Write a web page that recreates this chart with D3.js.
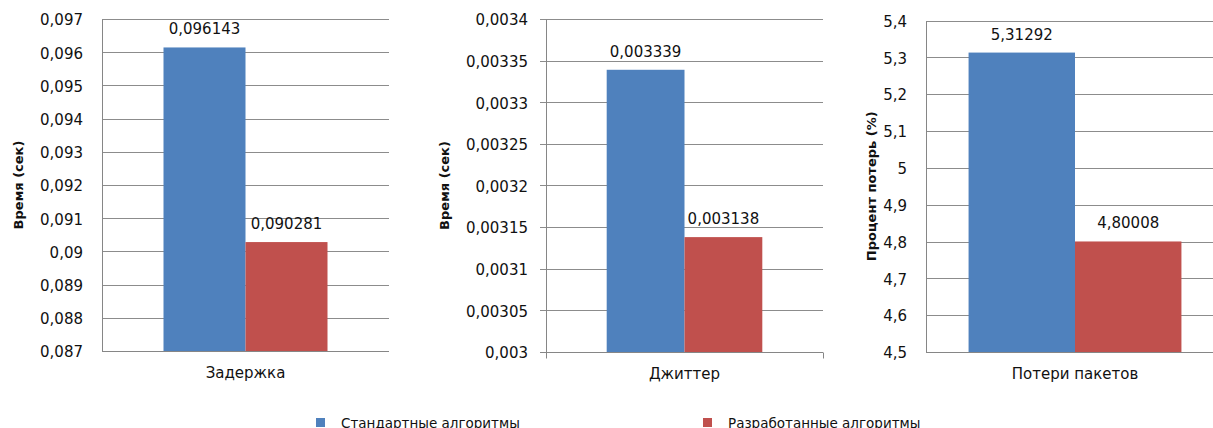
<!DOCTYPE html>
<html>
<head>
<meta charset="utf-8">
<script src="https://cdn.jsdelivr.net/npm/d3@7"></script>
<style>
  html, body { margin: 0; padding: 0; background: #fff; }
  svg { display: block; }
  text { font-family: "DejaVu Sans", Verdana, sans-serif; fill: #111; }
</style>
</head>
<body>
<svg id="chart" width="1213" height="428"></svg>
<script>
// Network quality metrics: standard vs. developed algorithms
const categories = ["Задержка", "Джиттер", "Потери пакетов"];
const seriesNames = ["Стандартные алгоритмы", "Разработанные алгоритмы"];
const standardValues = [0.096143, 0.003339, 5.31292];
const developedValues = [0.090281, 0.003138, 4.80008];
const axisTitles = ["Время (сек)", "Время (сек)", "Процент потерь (%)"];
const delayTicks = [0.087, 0.088, 0.089, 0.09, 0.091, 0.092, 0.093, 0.094, 0.095, 0.096, 0.097];
const jitterTicks = [0.003, 0.00305, 0.0031, 0.00315, 0.0032, 0.00325, 0.0033, 0.00335, 0.0034];
const lossTicks = [4.5, 4.6, 4.7, 4.8, 4.9, 5, 5.1, 5.2, 5.3, 5.4];
const tickSets = [delayTicks, jitterTicks, lossTicks];

const colors = ["#4F81BD", "#C0504D"];
const fmt = v => String(v).replace(".", ",");

// Panel frames (pixel layout of each small chart)
const layout = [
  { left: 102, right: 389, top: 19, bottom: 351, pad: 0.375, labelRight: 83, titleX: 18, outerTicks: false },
  { left: 546, right: 823, top: 19, bottom: 352, pad: 0.39, labelRight: 528, titleX: 444, outerTicks: true },
  { left: 926, right: 1224, top: 20.5, bottom: 352, pad: 0.2, labelRight: 907, titleX: 871, outerTicks: false }
];

const svg = d3.select("#chart");
const crisp = v => Math.round(v) + 0.5;

categories.forEach((cat, i) => {
  const L = layout[i];
  const ticks = tickSets[i];
  const g = svg.append("g");

  const y = d3.scaleLinear()
    .domain([ticks[0], ticks[ticks.length - 1]])
    .range([L.bottom, L.top]);

  const x = d3.scaleBand()
    .domain([cat])
    .range([L.left, L.right])
    .paddingInner(0)
    .paddingOuter(L.pad);

  const xs = d3.scaleBand()
    .domain(seriesNames)
    .range([0, x.bandwidth()]);

  // horizontal gridlines
  g.append("g").selectAll("line")
    .data(ticks)
    .join("line")
    .attr("x1", L.left - (L.outerTicks ? 6 : 0))
    .attr("x2", L.right)
    .attr("y1", d => crisp(y(d)))
    .attr("y2", d => crisp(y(d)))
    .attr("stroke", "#8c8c8c")
    .attr("stroke-width", 1);

  // y tick labels
  g.append("g").selectAll("text")
    .data(ticks)
    .join("text")
    .attr("x", L.labelRight)
    .attr("y", d => y(d))
    .attr("dy", "0.42em")
    .attr("text-anchor", "end")
    .attr("font-size", 15)
    .text(d => fmt(d));

  // bars
  const vals = [standardValues[i], developedValues[i]];
  const barG = g.append("g");
  barG.selectAll("rect")
    .data(vals)
    .join("rect")
    .attr("x", (d, k) => x(cat) + xs(seriesNames[k]))
    .attr("width", xs.bandwidth())
    .attr("y", d => y(d))
    .attr("height", d => L.bottom - y(d))
    .attr("fill", (d, k) => colors[k]);

  // value labels
  barG.selectAll("text")
    .data(vals)
    .join("text")
    .attr("x", (d, k) => x(cat) + xs(seriesNames[k]) + xs.bandwidth() / 2)
    .attr("y", d => y(d) - 13)
    .attr("text-anchor", "middle")
    .attr("font-size", 15)
    .text(d => fmt(d));

  // axis lines
  const bx = crisp(L.left), by = crisp(L.bottom);
  g.append("line")
    .attr("x1", bx).attr("x2", bx)
    .attr("y1", crisp(L.top)).attr("y2", by + (L.outerTicks ? 6 : 0))
    .attr("stroke", "#868686");
  g.append("line")
    .attr("x1", bx - (L.outerTicks ? 6 : 0)).attr("x2", L.right)
    .attr("y1", by).attr("y2", by)
    .attr("stroke", "#868686");
  if (L.outerTicks) {
    g.append("line")
      .attr("x1", crisp(L.right)).attr("x2", crisp(L.right))
      .attr("y1", by).attr("y2", by + 6)
      .attr("stroke", "#868686");
  }

  // category label
  g.append("text")
    .attr("x", x(cat) + x.bandwidth() / 2)
    .attr("y", L.bottom + 27)
    .attr("text-anchor", "middle")
    .attr("font-size", 15)
    .text(cat);

  // y-axis title
  const cy = (L.top + L.bottom) / 2;
  g.append("text")
    .attr("transform", `translate(${L.titleX},${cy}) rotate(-90)`)
    .attr("dy", "0.35em")
    .attr("text-anchor", "middle")
    .attr("font-size", 13)
    .attr("font-weight", "bold")
    .text(axisTitles[i]);
});

// legend
const legendPos = [{ x: 316, y: 418 }, { x: 703, y: 418 }];
const legend = svg.append("g");
seriesNames.forEach((name, k) => {
  const p = legendPos[k];
  legend.append("rect")
    .attr("x", p.x).attr("y", p.y)
    .attr("width", 9).attr("height", 9)
    .attr("fill", colors[k]);
  legend.append("text")
    .attr("x", p.x + 25)
    .attr("y", p.y + 10)
    .attr("font-size", 13.5)
    .text(name);
});
</script>
</body>
</html>
